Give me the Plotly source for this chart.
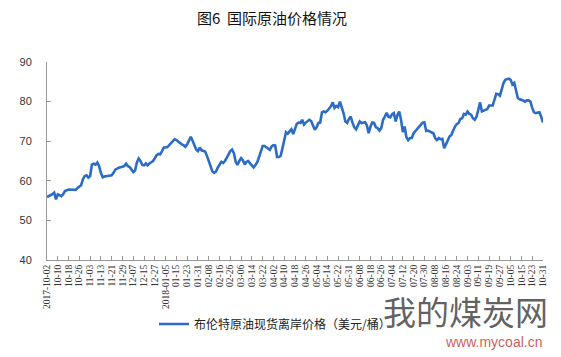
import plotly.graph_objects as go

# Trading-day index (0 = 2017-10-02) and Brent spot price (USD/bbl)
day = [0, 1, 3, 4, 5, 6, 8, 9, 10, 12, 13, 14, 16, 17, 19, 20, 21, 22, 23, 24,
       25, 26, 27, 28, 29, 30, 31, 32, 34, 36, 37, 38, 40, 41, 42, 43, 44, 45, 46, 47,
       48, 49, 50, 51, 52, 53, 54, 55, 56, 57, 58, 59, 60, 61, 62, 63, 64, 65, 66, 67,
       68, 69, 70, 71, 72, 73, 74, 75, 76, 77, 78, 79, 80, 81, 82, 83, 84, 85, 86, 87,
       88, 89, 90, 91, 92, 93, 94, 95, 96, 97, 98, 99, 100, 101, 102, 103, 104, 105, 106, 107,
       108, 109, 110, 111, 112, 113, 114, 115, 116, 117, 118, 119, 120, 121, 122, 123, 124, 125, 126, 127,
       128, 129, 130, 131, 132, 133, 134, 135, 136, 137, 138, 139, 140, 141, 142, 143, 144, 145, 146, 147,
       148, 149, 150, 151, 152, 153, 154, 155, 156, 157, 158, 159, 160, 161, 162, 163, 164, 165, 166, 167,
       168, 169, 170, 171, 172, 173, 174, 175, 176, 177, 178, 179, 180, 181, 182, 183, 184, 185, 186, 187,
       188, 189, 190, 191, 192, 193, 194, 195, 196, 197, 198, 199, 200, 201, 202, 203, 204, 205, 206, 207,
       208, 209, 210, 211, 212, 213, 214, 215, 216, 217, 218, 219, 220, 221, 222, 223, 224, 225, 226, 227,
       228, 229, 230, 231, 232, 233, 234, 235, 236, 237, 238, 239, 240, 241, 242, 243, 244, 245, 246, 247,
       248, 249, 250, 251, 252, 253, 254, 255, 256, 257, 258, 259, 260, 261, 262, 263, 264, 265, 266, 267,
       268, 269, 270, 271, 272, 273, 274, 275, 276]

brent = [55.9, 56.1, 56.6, 57.0, 55.3, 56.6, 56.1, 56.6, 57.4, 57.8, 57.8, 57.7, 57.7, 58.2, 58.9, 60.4, 61.2, 61.4, 60.8, 61.2,
         64.1, 64.3, 64.1, 64.6, 63.7, 62.0, 60.9, 61.1, 61.2, 61.4, 62.0, 62.8, 63.3, 63.5, 63.5, 63.7, 64.3, 63.7, 63.5, 62.9,
         62.2, 62.6, 64.6, 65.6, 65.0, 64.0, 63.9, 64.4, 63.9, 64.4, 64.7, 65.0, 65.7, 66.5, 66.8, 66.7, 67.5, 68.4, 68.4, 68.5,
         69.0, 69.6, 70.2, 70.5, 70.3, 69.9, 69.6, 69.2, 69.0, 68.6, 69.2, 70.2, 71.1, 70.1, 69.0, 67.9, 67.5, 68.4, 67.7, 67.5,
         67.4, 66.3, 65.0, 63.7, 62.4, 62.0, 62.3, 63.3, 64.1, 64.8, 64.5, 65.0, 65.8, 66.7, 67.5, 67.9, 67.0, 64.8, 64.0, 65.0,
         65.7, 65.2, 64.1, 64.8, 65.0, 64.4, 63.8, 63.4, 64.0, 64.7, 66.0, 67.6, 68.8, 68.8, 68.5, 68.2, 67.8, 68.7, 69.0, 68.9,
         66.0, 66.0, 66.3, 68.2, 70.3, 72.3, 71.9, 72.5, 73.0, 71.8, 73.3, 74.4, 74.7, 74.6, 75.4, 74.2, 74.7, 75.0, 75.4, 75.1,
         73.7, 72.9, 73.5, 74.6, 74.7, 77.3, 77.5, 77.3, 77.7, 78.2, 78.8, 79.8, 78.4, 78.9, 78.6, 80.0, 78.7, 77.1, 75.0, 74.6,
         75.6, 76.2, 74.7, 73.5, 73.0, 74.1, 75.0, 74.6, 74.7, 74.8, 74.0, 72.0, 73.7, 74.7, 74.6, 73.5, 73.3, 72.7, 73.3, 75.4,
         76.2, 77.2, 76.2, 76.0, 76.8, 77.1, 75.0, 76.6, 77.5, 75.4, 72.3, 73.7, 71.0, 70.3, 70.8, 70.8, 72.0, 72.5, 73.2, 73.5,
         74.2, 74.7, 74.8, 72.6, 72.7, 72.5, 72.2, 72.0, 70.8, 70.3, 70.8, 70.5, 70.6, 68.2, 69.2, 70.3, 71.2, 71.6, 72.7, 73.7,
         74.3, 74.6, 75.6, 75.8, 76.9, 76.7, 77.5, 76.9, 76.7, 75.8, 75.4, 76.2, 77.9, 79.8, 77.5, 77.7, 77.9, 78.1, 79.0, 79.0,
         79.0, 80.5, 82.0, 81.9, 81.5, 83.0, 84.7, 85.5, 85.7, 85.8, 85.5, 84.3, 84.7, 82.6, 80.9, 80.6, 80.5, 80.3, 80.0, 80.3,
         80.3, 80.0, 78.4, 77.3, 77.1, 77.3, 77.3, 76.2, 74.7]

tick_labels = ["2017-10-02", "10-10", "10-18", "10-26", "11-03", "11-13", "11-21", "11-29",
               "12-07", "12-15", "12-27", "2018-01-05", "01-15", "01-23", "01-31", "02-08",
               "02-16", "02-26", "03-06", "03-14", "03-22", "04-02", "04-10", "04-18",
               "04-26", "05-04", "05-14", "05-22", "05-31", "06-08", "06-18", "06-26",
               "07-04", "07-12", "07-20", "07-30", "08-08", "08-16", "08-24", "09-03",
               "09-11", "09-19", "09-27", "10-05", "10-15", "10-23", "10-31"]
tick_step = 6  # trading days between labelled ticks

series_name = "布伦特原油现货离岸价格（美元/桶）"
title_text = "图6  国际原油价格情况"

# page (window) geometry; the page body has an 8px default margin
PAGE_W, PAGE_H, OFF = 561, 357, 8
W, H = PAGE_W - OFF, PAGE_H - OFF
PL, PR, PT, PB = 47, 543, 62, 260          # plot area edges in page pixels
L, R, T, B = PL - OFF, PAGE_W - PR, PT - OFF, PAGE_H - PB
PW, PH = PR - PL, PB - PT


def px_x(px):
    return (px - PL) / PW


def px_y(py):
    return (PB - py) / PH


fig = go.Figure()
fig.add_trace(go.Scatter(
    x=day, y=brent, mode="lines", name=series_name,
    line=dict(color="#2B6CC4", width=2.6),
))

cjk = "Noto Sans CJK SC"
fig.update_layout(
    width=W, height=H,
    margin=dict(l=L, r=R, t=T, b=B, pad=0, autoexpand=False),
    paper_bgcolor="white", plot_bgcolor="white",
    title=dict(text=title_text, x=(272 - OFF) / W, xanchor="center",
               y=1 - (19 - OFF) / H, yanchor="middle",
               font=dict(family=cjk, size=15, color="#111")),
    showlegend=True,
    legend=dict(orientation="h", x=px_x(275), xanchor="center", y=px_y(324), yanchor="middle",
                font=dict(family=cjk, size=12, color="#222"), bgcolor="rgba(0,0,0,0)"),
    xaxis=dict(
        range=[0, 276], tickmode="array", automargin=False,
        tickvals=[i * tick_step for i in range(len(tick_labels))], ticktext=tick_labels,
        tickangle=-90, ticks="inside", ticklen=4, tickcolor="#999",
        showline=True, linecolor="#999", linewidth=1, showgrid=False, zeroline=False,
        tickfont=dict(family="Liberation Serif", size=9.5, color="#333"),
    ),
    yaxis=dict(
        range=[40, 90], dtick=10, ticks="inside", ticklen=4, tickcolor="#999", automargin=False,
        showline=True, linecolor="#999", linewidth=1, showgrid=False, zeroline=False,
        ticklabelstandoff=12,
        tickfont=dict(family="Liberation Sans", size=11, color="#333"),
    ),
)

# site watermark text
fig.add_annotation(text="我的煤炭网", xref="paper", yref="paper",
                   x=px_x(465), y=px_y(311),
                   showarrow=False, xanchor="center", yanchor="middle",
                   font=dict(family=cjk, size=33, color="rgba(70,70,70,0.85)"))
fig.add_annotation(text="www.mycoal.cn", xref="paper", yref="paper",
                   x=px_x(493), y=px_y(342),
                   showarrow=False, xanchor="center", yanchor="middle",
                   font=dict(family="Liberation Sans", size=14, color="rgba(200,60,60,0.85)"))

fig.write_html("out.html")
